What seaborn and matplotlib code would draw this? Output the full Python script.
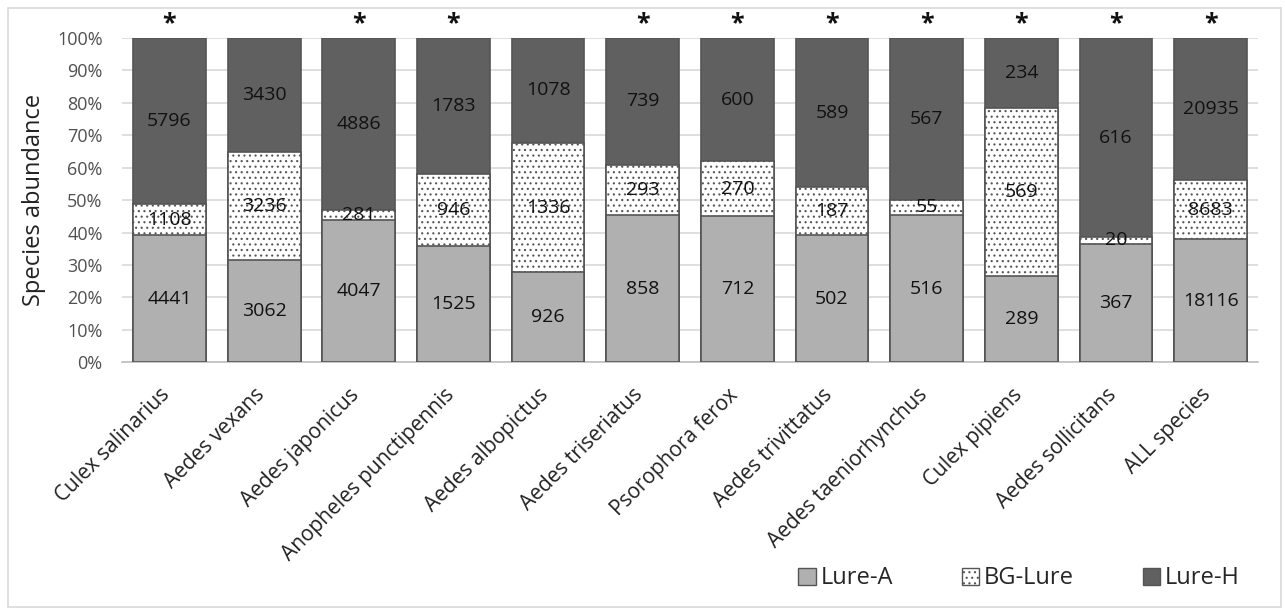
import numpy as np
import pandas as pd
import matplotlib
matplotlib.use("Agg")
import matplotlib.pyplot as plt
import matplotlib.patches as mpatches
import matplotlib.transforms as mtransforms
import seaborn as sns

species = ["Culex salinarius", "Aedes vexans", "Aedes japonicus", "Anopheles punctipennis",
           "Aedes albopictus", "Aedes triseriatus", "Psorophora ferox", "Aedes trivittatus",
           "Aedes taeniorhynchus", "Culex pipiens", "Aedes sollicitans", "ALL species"]
lure_a = [4441, 3062, 4047, 1525, 926, 858, 712, 502, 516, 289, 367, 18116]
bg_lure = [1108, 3236, 281, 946, 1336, 293, 270, 187, 55, 569, 20, 8683]
lure_h = [5796, 3430, 4886, 1783, 1078, 739, 600, 589, 567, 234, 616, 20935]
significant = [True, False, True, True, False, True, True, True, True, True, True, True]
yticks = [0, 10, 20, 30, 40, 50, 60, 70, 80, 90, 100]

sns.set_theme(style="white")
plt.rcParams['font.family'] = ['Open Sans', 'DejaVu Sans']
plt.rcParams['hatch.color'] = '#8a8a8a'
plt.rcParams['hatch.linewidth'] = 0.8

a = np.array(lure_a, float); b = np.array(bg_lure, float); h = np.array(lure_h, float)
tot = a + b + h
pa = a / tot * 100; pb = b / tot * 100; ph = h / tot * 100

df = pd.DataFrame({"species": species, "top": pa + pb + ph, "mid": pa + pb, "low": pa})

fig = plt.figure(figsize=(12.85, 6.14), dpi=100)
ax = fig.add_axes([0.095, 0.410, 0.884, 0.528])

c_a = "#b0b0b0"; c_h = "#606060"; edge = "#555555"
sns.barplot(data=df, x="species", y="top", color=c_h, edgecolor=edge, linewidth=1.2,
            width=0.77, saturation=1, ax=ax, zorder=2)
sns.barplot(data=df, x="species", y="mid", color="white", edgecolor=edge, linewidth=1.2,
            width=0.77, saturation=1, hatch="...", ax=ax, zorder=3)
sns.barplot(data=df, x="species", y="low", color=c_a, edgecolor=edge, linewidth=1.2,
            width=0.77, saturation=1, ax=ax, zorder=4)

fs = 14
for i in range(len(species)):
    ax.text(i, pa[i] / 2, f"{lure_a[i]}", ha="center", va="center", fontsize=fs, color="#111111", zorder=6)
    ax.text(i, pa[i] + pb[i] / 2, f"{bg_lure[i]}", ha="center", va="center", fontsize=fs, color="#111111", zorder=6)
    ax.text(i, pa[i] + pb[i] + ph[i] / 2, f"{lure_h[i]}", ha="center", va="center", fontsize=fs, color="#111111", zorder=6)
    if significant[i]:
        ax.text(i, 104.5, "*", ha="center", va="center", fontsize=18, fontweight="bold", color="#111111")

ax.set_xlim(-0.5, 11.5)
ax.set_ylim(0, 100)
ax.set_yticks(yticks)
ax.set_yticklabels([f"{t}%" for t in yticks], fontsize=13, color="#505050")
ax.yaxis.grid(True, color="#d9d9d9", linewidth=1.2, zorder=0)
ax.set_axisbelow(True)
for s in ["top", "right", "left"]:
    ax.spines[s].set_visible(False)
ax.spines["bottom"].set_color("#bfbfbf")
ax.spines["bottom"].set_linewidth(1.2)
ax.tick_params(axis="y", length=0, pad=14)
ax.tick_params(axis="x", length=0, pad=16)
ax.set_xlabel("")
ax.set_ylabel("Species abundance", fontsize=17, color="#222222", labelpad=8)
ax.set_xticks(range(len(species)))
ax.set_xticklabels(species, rotation=45, ha="right", rotation_mode="anchor", fontsize=15, color="#222222")
offset = mtransforms.ScaledTranslation(-10 / 100, 0, fig.dpi_scale_trans)
for lab in ax.get_xticklabels():
    lab.set_transform(lab.get_transform() + offset)

handles = [mpatches.Patch(facecolor=c_a, edgecolor=edge, label="Lure-A"),
           mpatches.Patch(facecolor="white", edgecolor=edge, hatch="...", label="BG-Lure"),
           mpatches.Patch(facecolor=c_h, edgecolor=edge, label="Lure-H")]
fig.legend(handles=handles, loc="center", bbox_to_anchor=(0.793, 0.058), ncol=3, frameon=False,
           fontsize=17, handlelength=0.75, handleheight=0.75, handletextpad=0.2, columnspacing=2.9)

border = mpatches.Rectangle((0.006, 0.012), 0.991, 0.975, transform=fig.transFigure,
                            fill=False, edgecolor="#d9d9d9", linewidth=1.2)
fig.patches.append(border)

fig.savefig("out.png", dpi=100, facecolor="white")
